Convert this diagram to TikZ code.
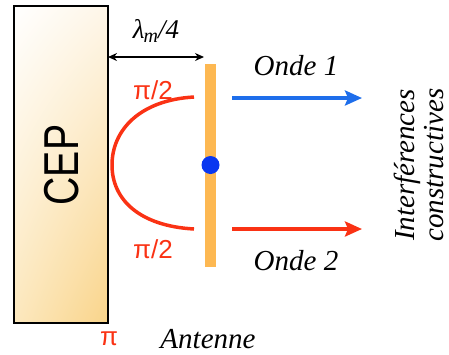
\documentclass[tikz,border=0pt]{standalone}
\usepackage{fontspec}
\setmainfont{Liberation Serif}
\setsansfont{Liberation Sans}
\usetikzlibrary{arrows.meta,shadings}
\definecolor{cepred}{RGB}{250,50,20}
\definecolor{antorange}{RGB}{253,184,82}
\definecolor{wblue}{RGB}{30,110,235}
\definecolor{dotblue}{RGB}{10,55,240}
\definecolor{boxlr}{RGB}{249,212,138}
\definecolor{boxll}{RGB}{252,232,190}
\definecolor{boxur}{RGB}{254,246,232}
\tikzset{
  lbl/.style={inner sep=0pt, font=\itshape\fontsize{29}{32}\selectfont},
  redlbl/.style={inner sep=0pt, text=cepred, font=\sffamily\fontsize{26}{30}\selectfont},
  wave/.style={line width=4pt, -{Stealth[length=17pt,width=15pt,inset=3pt]}},
}
\begin{document}
\begin{tikzpicture}[x=1pt,y=-1pt]
\useasboundingbox (0,0) rectangle (449,354);
% CEP plate
\shade[upper left=white, upper right=boxur, lower left=boxll, lower right=boxlr]
  (14,6) rectangle (108,323);
\draw[line width=2pt] (14,6) rectangle (108,323);
\node[inner sep=0pt, rotate=90, xscale=0.8, font=\sffamily\fontsize{49}{52}\selectfont] (cep) at (62,165) {CEP};
\coordinate (plate) at (108,57);
% antenna
\draw[line width=11pt, antorange] (210.5,64) coordinate (antT) -- (210.5,267) coordinate (antB);
\node[circle, fill=dotblue, minimum size=18pt, inner sep=0pt] (dot) at (210.5,165) {};
\coordinate (antL) at (204,57);
% distance
\draw[line width=1.4pt, {Stealth[length=9pt,width=8pt]}-{Stealth[length=9pt,width=8pt]}] (plate) -- (antL);
\node[inner sep=0pt, font=\itshape\fontsize{27}{29}\selectfont] (lam) at (156,31) {λ\kern-1pt\raisebox{-0.3ex}{\fontsize{20}{20}\selectfont m}/4};
% red path
\coordinate (r1) at (194,97);
\coordinate (r2) at (194,229);
\draw[line width=3.5pt, cepred] (r1) .. controls (140,100) and (112,130) .. (112,165)
  .. controls (112,200) and (140,226) .. (r2);
\node[redlbl] (p1) at (153,90) {π/2};
\node[redlbl] (p2) at (153,249) {π/2};
\node[redlbl] (pi) at (109,339) {π};
\node[lbl] (ant) at (208,339) {Antenne};
% waves
\coordinate (w1s) at (232,98);
\coordinate (w1e) at (362,98);
\coordinate (w2s) at (232,229);
\coordinate (w2e) at (362,229);
\draw[wave, wblue] (w1s) -- (w1e);
\draw[wave, cepred] (w2s) -- (w2e);
\node[lbl] (o1) at (296,66) {Onde 1};
\node[lbl] (o2) at (296,261) {Onde 2};
\node[lbl, rotate=90, align=center] (int) at (419,165) {Interférences\\[-3pt]constructives};
\end{tikzpicture}
\end{document}
